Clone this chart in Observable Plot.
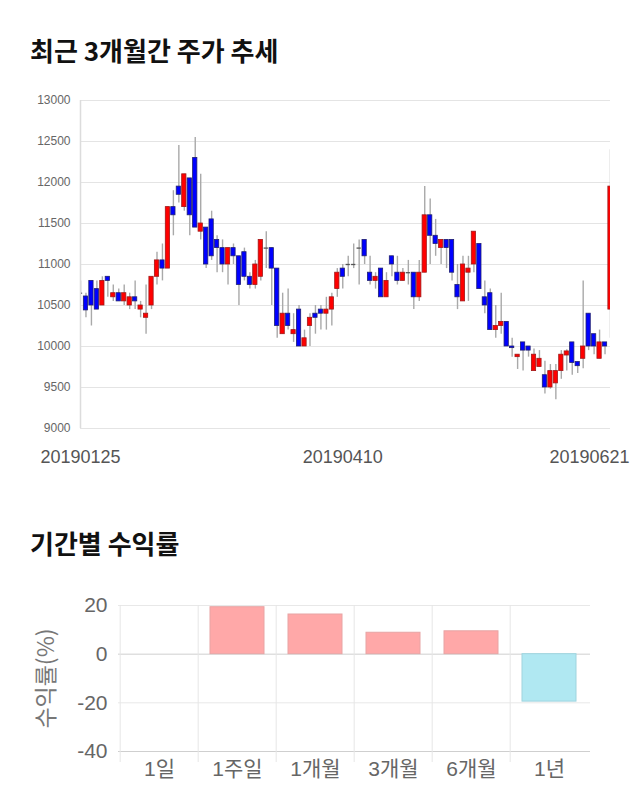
<!DOCTYPE html>
<html><head><meta charset="utf-8">
<script src="https://cdn.jsdelivr.net/npm/d3@7"></script>
<script src="https://cdn.jsdelivr.net/npm/@observablehq/plot@0.6"></script>
<style>
body{margin:0;background:#fff;}
#page{position:relative;width:640px;height:810px;overflow:hidden;background:#fff;}
.title{position:absolute;left:30px;font-family:"Noto Sans CJK KR",sans-serif;font-weight:700;font-size:26px;line-height:26px;color:#111;white-space:nowrap;}
#c1{position:absolute;left:0;top:80px;}
#c2{position:absolute;left:0;top:590px;}
</style></head><body>
<div id="page">
<div class="title" style="top:37px">최근 3개월간 주가 추세</div>
<div id="c1"></div>
<div class="title" style="top:530px">기간별 수익률</div>
<div id="c2"></div>
</div>
<script>
// ---- Chart 1: daily candles (index order, 20190125 .. 20190621) ----
const opens  = [10650,10610,10800,10700,10500,10850,10600,10650,10550,10500,10600,10450,10350,10500,10850,11050,10950,11700,11950,11700,
                12050,12300,11400,11450,11550,11300,11200,11000,11200,11100,11150,10850,10750,10850,11200,11200,10950,10150,10400,10150,
                10450,10000,10250,10400,10450,10400,10450,10700,10950,11000,11000,11200,11300,10900,10800,10950,10600,11100,10900,10800,
                10900,10900,10600,10900,11600,11350,11200,11300,11300,10750,10550,10900,11000,11250,10600,10650,10200,10250,10300,10000,
                9870,10050,10000,9700,9750,9650,9500,9550,9700,9890,10050,9810,9850,10400,10150,9850,10050,10450];
const highs  = [10800,10650,10800,10800,10850,10850,10750,10700,10750,10650,10800,10550,10750,10850,11150,11250,11700,11900,12450,12100,
                12050,12550,12100,11450,11650,11350,11300,11200,11250,11100,11200,10900,11050,11300,11400,11200,10950,10650,10700,10400,
                10500,10200,10400,10500,10500,10600,10650,10950,11000,11100,11250,11300,11300,11100,10900,10950,10900,11100,11100,10950,
                11050,10900,11050,11950,11800,11550,11300,11300,11300,11000,11100,11100,11400,11250,10800,10700,10500,10650,10300,10100,
                9900,10050,10000,9970,9950,9820,9780,9780,9950,9960,10050,9810,10800,10400,10150,10200,10050,12400];
const lows   = [10640,10350,10250,10450,10500,10600,10550,10550,10500,10450,10450,10350,10150,10450,10750,10800,10950,11350,11750,11650,
                11350,11450,11300,10950,11050,10900,10900,10750,11000,10500,10800,10700,10700,10800,10950,10500,10100,10150,10200,10050,
                10000,10000,10000,10150,10200,10200,10250,10600,10700,10850,10950,10750,11000,10750,10700,10600,10600,10850,10750,10800,
                10750,10450,10550,10900,11000,11100,11000,10950,10800,10450,10550,10550,10900,10700,10400,10200,10100,10150,10000,9870,
                9720,9700,9870,9700,9750,9420,9480,9350,9600,9700,9650,9670,9730,9950,9900,9850,9900,10100];
const closes = [10650,10440,10500,10450,10800,10800,10650,10550,10650,10600,10550,10500,10400,10850,11050,10950,11700,11600,11850,12100,
                11600,11450,11500,11000,11100,11200,11000,11200,11100,10750,10850,10750,11000,11300,11200,10950,10250,10400,10250,10200,
                10000,10100,10350,10350,10400,10450,10600,10900,10850,11000,11000,11200,11100,10800,10850,10600,10800,11000,10800,10900,
                10900,10600,10900,11600,11350,11250,11300,11200,10900,10600,11000,10950,11400,10700,10500,10200,10250,10300,10000,9980,
                9900,9950,9950,9900,9850,9500,9700,9700,9900,9940,9800,9760,10000,10000,10000,10050,10000,11950];
const priceTicks = [9000,9500,10000,10500,11000,11500,12000,12500,13000];
const dateTickIndex = [0, 48, 97];
const dateTickLabels = ["20190125","20190410","20190621"];

// ---- Chart 2: period returns ----
const periods = ["1일","1주일","1개월","3개월","6개월","1년"];
const returns = [0, 19.3, 16.3, 8.8, 9.4, -19.5];
const returnTicks = [20, 0, -20, -40];

const candles = opens.map((o,i)=>({i, open:o, high:highs[i], low:lows[i], close:closes[i]}));
const bodies = candles.filter(d=>d.open!==d.close);
const dojis = candles.filter(d=>d.open===d.close);
const dateTicks = dateTickIndex.map((i,k)=>({i, label:dateTickLabels[k]}));
const hw = 0.39;

const chart1 = Plot.plot({
  width:640, height:400, marginLeft:80, marginRight:30, marginTop:20, marginBottom:52,
  style:{fontFamily:"'Liberation Sans', Arial, sans-serif", background:"white", overflow:"visible"},
  x:{domain:[0, opens.length-1], axis:null},
  y:{domain:[9000,13000], axis:null},
  color:{type:"identity"},
  marks:[
    Plot.ruleY(priceTicks,{stroke:"#e4e4e4", strokeWidth:1}),
    Plot.text(priceTicks,{y:d=>d, text:d=>String(d), frameAnchor:"left", dx:-10, textAnchor:"end", fontSize:12, fill:"#666"}),
    Plot.ruleX(candles,{x:"i", y1:"low", y2:"high", stroke:"#a9a9a9", strokeWidth:1.4, clip:true}),
    Plot.rect(bodies,{x1:d=>d.i-hw, x2:d=>d.i+hw, y1:"open", y2:"close",
      fill:d=>d.close>d.open?"#ff0000":"#0000ff",
      stroke:d=>d.close>d.open?"#a01818":"#202070", strokeWidth:0.8, clip:true}),
    Plot.ruleY(dojis,{x1:d=>d.i-hw, x2:d=>d.i+hw, y:"close", stroke:"#555", strokeWidth:1.3, clip:true}),
    Plot.ruleX([0],{y1:9000, y2:13000, stroke:"#dcdcdc", strokeWidth:1.5}),
    Plot.text(dateTicks.slice(0,2),{x:"i", text:"label", frameAnchor:"bottom", dy:34, fontSize:18, fill:"#555"}),
    Plot.text(dateTicks.slice(2),{x:"i", text:"label", frameAnchor:"bottom", dy:34, dx:19, textAnchor:"end", fontSize:18, fill:"#555"})
  ]
});
document.getElementById("c1").appendChild(chart1);

const rows = periods.map((p,i)=>({p, v:returns[i]}));
const chart2 = Plot.plot({
  width:640, height:205, marginLeft:118, marginRight:50, marginTop:15, marginBottom:44,
  style:{fontFamily:"'Liberation Sans', 'Noto Sans CJK KR', sans-serif", background:"white", overflow:"visible"},
  x:{domain:periods, padding:0},
  y:{domain:[-40,20]},
  color:{type:"identity"},
  marks:[
    Plot.ruleY(returnTicks,{stroke:d=>(d===0||d===-40)?"#cfcfcf":"#e8e8e8"}),
    Plot.ruleX(periods,{x:d=>d, dx:-39.33, y1:20, y2:-40, insetBottom:-11, stroke:"#e6e6e6"}),
    Plot.barY(rows.filter(d=>d.v!==0),{x:"p", y:"v", insetLeft:12, insetRight:12,
      fill:d=>d.v>0?"#ffa8a8":"#b0e8f2", stroke:d=>d.v>0?"#e8a4a4":"#9fd4de", strokeWidth:1}),
    Plot.axisY({ticks:returnTicks, tickFormat:d=>String(d), tickSize:0, tickPadding:11, fontSize:21, fill:"#666", label:null}),
    Plot.axisX({tickSize:0, tickPadding:10, fontSize:21, fill:"#666", label:null}),
    Plot.text(["수익률(%)"],{frameAnchor:"left", dx:-72, rotate:-90, textAnchor:"middle", fontSize:23, fill:"#777",
      fontFamily:"'Noto Sans CJK KR', sans-serif"})
  ]
});
document.getElementById("c2").appendChild(chart2);
</script>
</body></html>
